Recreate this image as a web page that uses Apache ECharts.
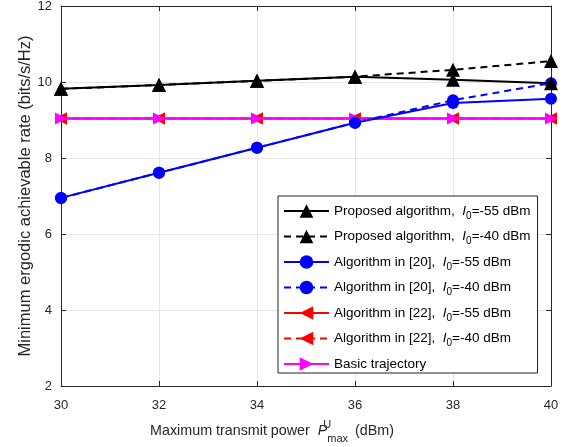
<!DOCTYPE html>
<html><head><meta charset="utf-8">
<script src="https://cdn.jsdelivr.net/npm/echarts@6/dist/echarts.min.js"></script>
<style>html,body{margin:0;padding:0;background:#fff}#c{width:573px;height:447px}</style>
</head><body><div id="c"></div>
<script>
const powers = [30, 32, 34, 36, 38, 40];
const proposed55 = [9.82, 9.92, 10.03, 10.14, 10.06, 9.97];
const proposed40 = [9.82, 9.92, 10.03, 10.14, 10.32, 10.55];
const alg20_55 = [6.95, 7.61, 8.27, 8.93, 9.45, 9.56];
const alg20_40 = [6.95, 7.61, 8.27, 8.93, 9.52, 9.97];
const alg22_55 = [9.04, 9.04, 9.04, 9.04, 9.04, 9.04];
const alg22_40 = [9.04, 9.04, 9.04, 9.04, 9.04, 9.04];
const basic = [9.04, 9.04, 9.04, 9.04, 9.04, 9.04];
const xTicks = [30, 32, 34, 36, 38, 40];
const yTicks = [2, 4, 6, 8, 10, 12];

const names = ['Proposed algorithm, -55', 'Proposed algorithm, -40', 'Algorithm in [20], -55', 'Algorithm in [20], -40', 'Algorithm in [22], -55', 'Algorithm in [22], -40', 'Basic trajectory'];
const labels = {
  'Proposed algorithm, -55': 'Proposed algorithm,  {i|I}{s|0}=-55 dBm',
  'Proposed algorithm, -40': 'Proposed algorithm,  {i|I}{s|0}=-40 dBm',
  'Algorithm in [20], -55': 'Algorithm in [20],  {i|I}{s|0}=-55 dBm',
  'Algorithm in [20], -40': 'Algorithm in [20],  {i|I}{s|0}=-40 dBm',
  'Algorithm in [22], -55': 'Algorithm in [22],  {i|I}{s|0}=-55 dBm',
  'Algorithm in [22], -40': 'Algorithm in [22],  {i|I}{s|0}=-40 dBm',
  'Basic trajectory': 'Basic trajectory'
};
const pair = arr => arr.map((v, i) => [powers[i], v]);
const FONT = 'Liberation Sans, Arial, sans-serif';

function mk(name, data, color, symbol, size, dashed, rot, z, lw) {
  return {
    name, type: 'line', data: pair(data), symbol, symbolSize: size, symbolRotate: rot || 0,
    lineStyle: { color, width: lw || 2, type: dashed ? [7, 5] : 'solid' },
    itemStyle: { color }, z: z, animation: false, clip: false
  };
}

const chart = echarts.init(document.getElementById('c'));
chart.setOption({
  animation: false,
  grid: { left: 61, right: 22, top: 6, bottom: 61, show: false, containLabel: false, outerBoundsMode: 'none' },
  legend: {
    orient: 'vertical', left: 278, top: 196,
    data: names,
    itemWidth: 45, itemHeight: 17, itemGap: 8.5,
    padding: [8, 7, 2, 5],
    backgroundColor: '#fff', borderColor: '#222', borderWidth: 1, borderRadius: 0,
    formatter: n => labels[n],
    textStyle: {
      fontFamily: FONT, fontSize: 13.5, color: '#000',
      rich: {
        i: { fontFamily: FONT, fontSize: 13.5, fontStyle: 'italic', color: '#000' },
        s: { fontFamily: FONT, fontSize: 10, color: '#000', padding: [10, 0, 0, 0] }
      }
    }
  },
  xAxis: [{
    type: 'value', min: 30, max: 40, interval: 2, position: 'bottom',
    axisLine: { show: true, onZero: false, lineStyle: { color: '#262626', width: 1 } },
    axisTick: { inside: true, length: 5, lineStyle: { color: '#262626' } },
    axisLabel: { fontFamily: FONT, fontSize: 13, color: '#262626', margin: 13, formatter: v => xTicks.includes(v) ? String(v) : '' },
    splitLine: { show: true, lineStyle: { color: '#e6e6e6', width: 1 } },
    name: 'Maximum transmit power  {p|P}{u|U}{m|max} (dBm)',
    nameLocation: 'middle', nameGap: 33,
    nameTextStyle: {
      fontFamily: FONT, fontSize: 14.3, color: '#262626', padding: [0, 68, 0, 0],
      rich: {
        p: { fontFamily: FONT, fontSize: 14.3, fontStyle: 'italic', color: '#262626' },
        u: { fontFamily: FONT, fontSize: 11, color: '#262626', width: 0, align: 'left', padding: [0, 0, 14, 0] },
        m: { fontFamily: FONT, fontSize: 11, color: '#262626', padding: [14, 3, 0, 0] }
      }
    }
  }, {
    type: 'value', min: 30, max: 40, interval: 2, position: 'top',
    axisLine: { show: true, onZero: false, lineStyle: { color: '#262626', width: 1 } },
    axisTick: { inside: true, length: 5, lineStyle: { color: '#262626' } },
    axisLabel: { show: false }, splitLine: { show: false }
  }],
  yAxis: [{
    type: 'value', min: 2, max: 12, interval: 2, position: 'left',
    axisLine: { show: true, onZero: false, lineStyle: { color: '#262626', width: 1 } },
    axisTick: { inside: true, length: 5, lineStyle: { color: '#262626' } },
    axisLabel: { fontFamily: FONT, fontSize: 13, color: '#262626', margin: 9, formatter: v => yTicks.includes(v) ? String(v) : '' },
    splitLine: { show: true, lineStyle: { color: '#e6e6e6', width: 1 } },
    name: 'Minimum ergodic achievable rate (bits/s/Hz)',
    nameLocation: 'middle', nameGap: 27, nameMoveOverlap: false,
    nameTextStyle: { fontFamily: FONT, fontSize: 16.5, color: '#262626' }
  }, {
    type: 'value', min: 2, max: 12, interval: 2, position: 'right',
    axisLine: { show: true, onZero: false, lineStyle: { color: '#262626', width: 1 } },
    axisTick: { inside: true, length: 5, lineStyle: { color: '#262626' } },
    axisLabel: { show: false }, splitLine: { show: false }
  }],
  series: [
    mk('Proposed algorithm, -55', proposed55, '#000000', 'triangle', 14, false, 0, 8),
    mk('Proposed algorithm, -40', proposed40, '#000000', 'triangle', 14, true, 0, 7),
    mk('Algorithm in [20], -55', alg20_55, '#0000ff', 'circle', 12, false, 0, 6),
    mk('Algorithm in [20], -40', alg20_40, '#0000ff', 'circle', 12, true, 0, 5),
    mk('Algorithm in [22], -55', alg22_55, '#ff0000', 'triangle', 12, false, 90, 3, 2),
    mk('Algorithm in [22], -40', alg22_40, '#ff0000', 'triangle', 12, true, 90, 2, 2),
    mk('Basic trajectory', basic, '#ff00ff', 'triangle', 12, false, -90, 4, 2.5)
  ]
});
</script></body></html>
